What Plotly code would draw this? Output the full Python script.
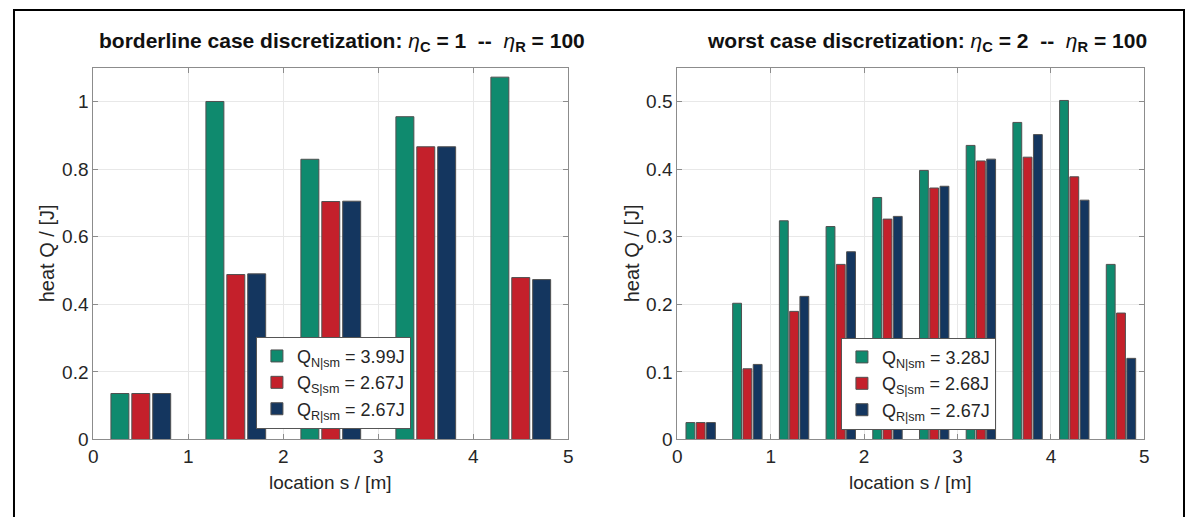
import plotly.graph_objects as go

# ---- data ----
loc_left = [0.5, 1.5, 2.5, 3.5, 4.5]
qn_left = [0.136, 1.000, 0.829, 0.955, 1.072]
qs_left = [0.136, 0.488, 0.704, 0.866, 0.479]
qr_left = [0.136, 0.490, 0.705, 0.866, 0.473]

loc_right = [0.25, 0.75, 1.25, 1.75, 2.25, 2.75, 3.25, 3.75, 4.25, 4.75]
qn_right = [0.025, 0.2015, 0.3235, 0.315, 0.358, 0.398, 0.435, 0.469, 0.5015, 0.259]
qs_right = [0.025, 0.1046, 0.1895, 0.259, 0.326, 0.372, 0.412, 0.4176, 0.3886, 0.187]
qr_right = [0.025, 0.111, 0.2117, 0.2777, 0.330, 0.3746, 0.4147, 0.451, 0.354, 0.120]

names_left = ["Q<sub>N|sm</sub> = 3.99J", "Q<sub>S|sm</sub> = 2.67J", "Q<sub>R|sm</sub> = 2.67J"]
names_right = ["Q<sub>N|sm</sub> = 3.28J", "Q<sub>S|sm</sub> = 2.68J", "Q<sub>R|sm</sub> = 2.67J"]

title_left = "<b>borderline case discretization: </b><i>η</i><b><sub>C</sub> = 1  --  </b><i>η</i><b><sub>R</sub> = 100</b>"
title_right = "<b>worst case discretization: </b><i>η</i><b><sub>C</sub> = 2  --  </b><i>η</i><b><sub>R</sub> = 100</b>"
x_label = "location s / [m]"
y_label = "heat Q / [J]"
x_ticks = [0, 1, 2, 3, 4, 5]
y_ticks_left = [0, 0.2, 0.4, 0.6, 0.8, 1]
y_ticks_right = [0, 0.1, 0.2, 0.3, 0.4, 0.5]

colors = ["#0f8a6e", "#c4202b", "#14365f"]
FONT = "Liberation Sans, Arial, sans-serif"
TXT = "#262626"

# page body has an 8px margin; figure sized to fit the window
OFF = 8
W, H = 1197 - 2 * OFF, 525 - 2 * OFF


def px(x):
    return (x - OFF) / W


def py(y):
    return (H - (y - OFF)) / H


fig = go.Figure()

for vals, name, col in zip([qn_left, qs_left, qr_left], names_left, colors):
    fig.add_trace(go.Bar(x=loc_left, y=vals, name=name, marker_color=col,
                         marker_line=dict(color="#505050", width=1),
                         xaxis="x", yaxis="y", legend="legend"))
for vals, name, col in zip([qn_right, qs_right, qr_right], names_right, colors):
    fig.add_trace(go.Bar(x=loc_right, y=vals, name=name, marker_color=col,
                         marker_line=dict(color="#505050", width=1),
                         xaxis="x2", yaxis="y2", legend="legend2"))

ydom = [py(449), py(69)]
axis_common = dict(showgrid=True, gridcolor="#e8e8e8", gridwidth=1,
                   showline=True, linecolor="#8c8c8c", linewidth=1, mirror="ticks",
                   ticks="inside", ticklen=5, tickcolor="#8c8c8c",
                   tickfont=dict(family=FONT, size=19, color=TXT), zeroline=False)

label_font = dict(family=FONT, size=19, color=TXT)
title_font = dict(family=FONT, size=21, color="#111111")

annotations = [
    dict(text=title_left, x=px((89 + 568) / 2 + 11), y=py(43)),
    dict(text=title_right, x=px((678 + 1149) / 2 + 16), y=py(43)),
]
annotations = [dict(a, xref="paper", yref="paper", xanchor="center", yanchor="middle",
                    showarrow=False, font=title_font) for a in annotations]
for cx in [(89 + 568) / 2, (678 + 1149) / 2]:
    annotations.append(dict(text=x_label, x=px(cx), y=py(493), xref="paper", yref="paper",
                            xanchor="center", yanchor="middle", showarrow=False, font=label_font))
for cx in [42, 632]:
    annotations.append(dict(text=y_label, x=px(cx), y=py(259), xref="paper", yref="paper",
                            xanchor="center", yanchor="middle", showarrow=False,
                            textangle=-90, font=dict(label_font, size=20)))

fig.update_layout(
    width=W, height=H,
    margin=dict(l=0, r=0, t=0, b=0),
    paper_bgcolor="white", plot_bgcolor="white",
    barmode="group", bargap=0.34, bargroupgap=0.14,
    font=dict(family=FONT, color=TXT),
    xaxis=dict(domain=[px(89), px(568)], range=[0, 5], tickvals=x_ticks,
               anchor="y", **axis_common),
    yaxis=dict(domain=ydom, range=[0, 1.1], tickvals=y_ticks_left,
               anchor="x", **axis_common),
    xaxis2=dict(domain=[px(678), px(1149)], range=[0, 5], tickvals=x_ticks,
                anchor="y2", **axis_common),
    yaxis2=dict(domain=ydom, range=[0, 0.55], tickvals=y_ticks_right,
                anchor="x2", **axis_common),
    legend=dict(x=px(253), y=py(344), xanchor="left", yanchor="top",
                bgcolor="white", bordercolor="#555555", borderwidth=1,
                font=dict(family=FONT, size=18, color=TXT), tracegroupgap=0,
                itemwidth=30),
    legend2=dict(x=px(843), y=py(345), xanchor="left", yanchor="top",
                 bgcolor="white", bordercolor="#555555", borderwidth=1,
                 font=dict(family=FONT, size=18, color=TXT), tracegroupgap=0,
                 itemwidth=30),
    annotations=annotations,
    shapes=[
        dict(type="rect", xref="paper", yref="paper", x0=px(9), x1=px(1189),
             y0=-0.05, y1=py(10), line=dict(color="black", width=2), layer="below"),
    ],
)

fig.write_html("out.html")
